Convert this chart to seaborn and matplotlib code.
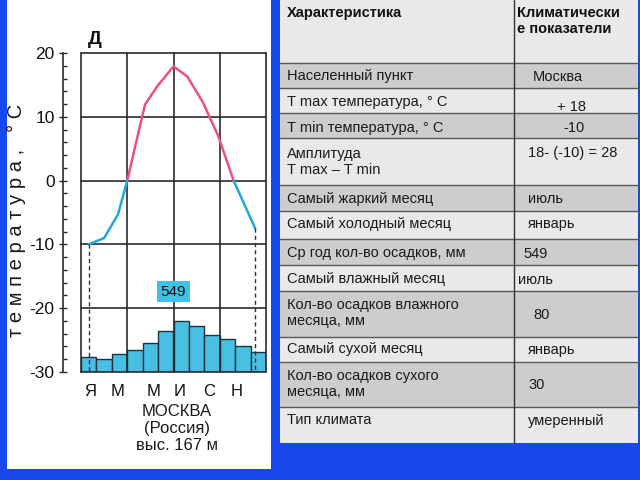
import matplotlib
matplotlib.use("Agg")
import matplotlib.pyplot as plt
from matplotlib.patches import Rectangle
import seaborn as sns
import numpy as np
import pandas as pd

# ---------------- data ----------------
month_labels = ['Я', 'М', 'М', 'И', 'С', 'Н']
month_index = list(range(12))
precip_mm = [23, 20, 28, 34, 46, 64, 80, 72, 58, 52, 41, 32]
annual_total = 549
temp_x = [0, 1, 1.9, 2.5, 3.65, 4.45, 5.5, 6.4, 7.4, 8.4, 9.4, 10.8]
temp_c = [-10, -9, -5.3, 0, 11.9, 14.8, 17.9, 16.3, 12.3, 7.0, 0, -7.5]
y_ticks = [-30, -20, -10, 0, 10, 20]

table_left = ['Населенный пункт', 'T max температура, ° C', 'T min температура, ° C',
              'Амплитуда\nT max – T min', 'Самый жаркий месяц', 'Самый холодный месяц',
              'Ср год кол-во осадков, мм', 'Самый влажный месяц',
              'Кол-во осадков влажного\nмесяца, мм', 'Самый сухой месяц',
              'Кол-во осадков сухого\nмесяца, мм', 'Тип климата']
table_right = ['Москва', '+ 18', '-10', '18- (-10) = 28', 'июль', 'январь', '549',
               'июль', '80', 'январь', '30', 'умеренный']

# ---------------- style ----------------
sns.set_theme(style='white')
plt.rcParams['font.family'] = ['Liberation Sans', 'DejaVu Sans']
plt.rcParams['axes.unicode_minus'] = False
NARROW = ['Liberation Sans Narrow', 'Liberation Sans', 'DejaVu Sans']

W, H = 640, 480
fig = plt.figure(figsize=(6.4, 4.8), dpi=100)
fig.patch.set_facecolor('#1748ee')

# overlay in pixel coordinates for panels and the table
ov = fig.add_axes([0, 0, 1, 1])
ov.set_xlim(0, W)
ov.set_ylim(H, 0)
ov.axis('off')
ov.set_zorder(0)

# white left panel
ov.add_patch(Rectangle((7, 0), 264, 469, facecolor='white', edgecolor='none'))

# table
row_edges = [0, 63, 88, 113, 138, 185, 211, 239, 265, 291, 337, 362, 407, 443]
col_l, col_m, col_r = 280, 514, 638
light, dark = '#e9e9e9', '#cdcdcd'
for i in range(len(row_edges) - 1):
    y0, y1 = row_edges[i], row_edges[i + 1]
    fc = light if i % 2 == 0 else dark
    ov.add_patch(Rectangle((col_l, y0), col_r - col_l, y1 - y0, facecolor=fc,
                           edgecolor='none'))
for y in row_edges[1:-1]:
    ov.plot([col_l, col_r], [y, y], color='#5a5a5a', lw=1.0)
ov.plot([col_m, col_m], [0, row_edges[-1]], color='#333333', lw=1.0)

fs = 10.5
ov.text(287, 6, 'Характеристика', fontsize=fs, fontweight='bold', va='top', ha='left',
        color='#111111')
ov.text(517, 6, 'Климатически\nе показатели', fontsize=fs, fontweight='bold', va='top',
        ha='left', color='#111111', linespacing=1.15)

left_y = [76, 102, 128, 162, 199, 224, 253, 279, 313, 349, 384, 420]
right_pos = [(533, 77), (557, 107), (563, 128), (528, 153), (528, 199), (528, 224),
             (523, 254), (518, 280), (533, 315), (528, 350), (528, 385), (528, 421)]
for txt, y in zip(table_left, left_y):
    ov.text(287, y, txt, fontsize=fs, va='center', ha='left', color='#1a1a1a',
            linespacing=1.2)
for txt, (x, y) in zip(table_right, right_pos):
    ov.text(x, y, txt, fontsize=fs, va='center', ha='left', color='#1a1a1a')

# ---------------- climate chart ----------------
ax_l, ax_r, ax_t, ax_b = 81, 266, 53, 372
ax = fig.add_axes([ax_l / W, 1 - ax_b / H, (ax_r - ax_l) / W, (ax_b - ax_t) / H])
ax2 = ax.twinx()
ax.set_zorder(3)
ax2.set_zorder(2)
ax.patch.set_visible(False)
ax2.patch.set_visible(False)

dfp = pd.DataFrame({'m': month_index, 'mm': precip_mm})
sns.barplot(data=dfp, x='m', y='mm', native_scale=True, width=1.0, ax=ax2,
            color='#48bfe3', saturation=1, edgecolor='#1d3440', linewidth=1.0)
ax2.set_ylim(0, 500)
ax2.set_axis_off()

dft = pd.DataFrame({'x': temp_x, 'y': temp_c})
pink = dft.iloc[3:11]
blue1 = dft.iloc[0:4]
blue2 = dft.iloc[10:12]
sns.lineplot(data=pink, x='x', y='y', sort=False, ax=ax, color='#e84f8c', lw=1.8)
sns.lineplot(data=blue1, x='x', y='y', sort=False, ax=ax, color='#1fa8dc', lw=1.8)
sns.lineplot(data=blue2, x='x', y='y', sort=False, ax=ax, color='#1fa8dc', lw=1.8)

# dashed drop lines at the ends of the temperature curve
for xi, yi in [(temp_x[0], temp_c[0]), (temp_x[-1], temp_c[-1])]:
    ax.plot([xi, xi], [yi, -30], color='#333333', lw=1.0, ls=(0, (3, 2.2)))

ax.set_xlim(-0.5, 11.5)
ax.set_ylim(-30, 20)
ax2.set_xlim(-0.5, 11.5)

# grid box
for xv in [-0.5, 2.5, 5.5, 8.5, 11.5]:
    ax.axvline(xv, color='#2a2a2a', lw=1.2, clip_on=False, zorder=1)
for yv in y_ticks:
    ax.axhline(yv, color='#2a2a2a', lw=1.2, clip_on=False, zorder=1)

for s in ['top', 'right', 'bottom']:
    ax.spines[s].set_visible(False)
ax.spines['left'].set_position(('outward', 13))
ax.spines['left'].set_bounds(-30, 20)
ax.spines['left'].set_color('#2a2a2a')
ax.spines['left'].set_linewidth(1.2)

ax.set_yticks(y_ticks)
ax.set_yticks(np.arange(-30, 21, 2), minor=True)
ax.tick_params(axis='y', which='major', direction='inout', length=6, width=1.0,
               color='#2a2a2a', pad=3, left=True, labelsize=12.5)
ax.tick_params(axis='y', which='minor', direction='in', length=3, width=1.0,
               color='#2a2a2a', left=True)
for lab in ax.get_yticklabels():
    lab.set_family(NARROW)
    lab.set_color('#111111')

ax.set_xticks([0.1, 1.9, 4.2, 5.9, 7.8, 9.6])
ax.set_xticklabels(month_labels)
ax.tick_params(axis='x', length=0, pad=9, labelsize=12)
for lab in ax.get_xticklabels():
    lab.set_color('#111111')
ax.set_xlabel('')
ax.set_ylabel('')

ax.text(5.5, -17.4, str(annual_total), ha='center', va='center', fontsize=11,
        family=NARROW, color='#111111',
        bbox=dict(boxstyle='square,pad=0.25', facecolor='#3fc2e6', edgecolor='none'))

# texts around the chart
fig.text(95 / W, 1 - 40 / H, 'Д', fontsize=14, fontweight='bold', ha='center',
         va='center', color='#111111')
fig.text(16 / W, 1 - 220 / H, 'т е м п е р а т у р а ,   ° С', rotation=90,
         fontsize=14.5, ha='center', va='center', color='#1a1a1a')
fig.text(177 / W, 1 - 411 / H, 'МОСКВА', fontsize=12, family=NARROW, ha='center',
         va='center', color='#1a1a1a')
fig.text(177 / W, 1 - 428 / H, '(Россия)', fontsize=12, family=NARROW, ha='center',
         va='center', color='#1a1a1a')
fig.text(177 / W, 1 - 445 / H, 'выс. 167 м', fontsize=12, family=NARROW, ha='center',
         va='center', color='#1a1a1a')

fig.savefig('out.png', dpi=100, facecolor=fig.get_facecolor())
